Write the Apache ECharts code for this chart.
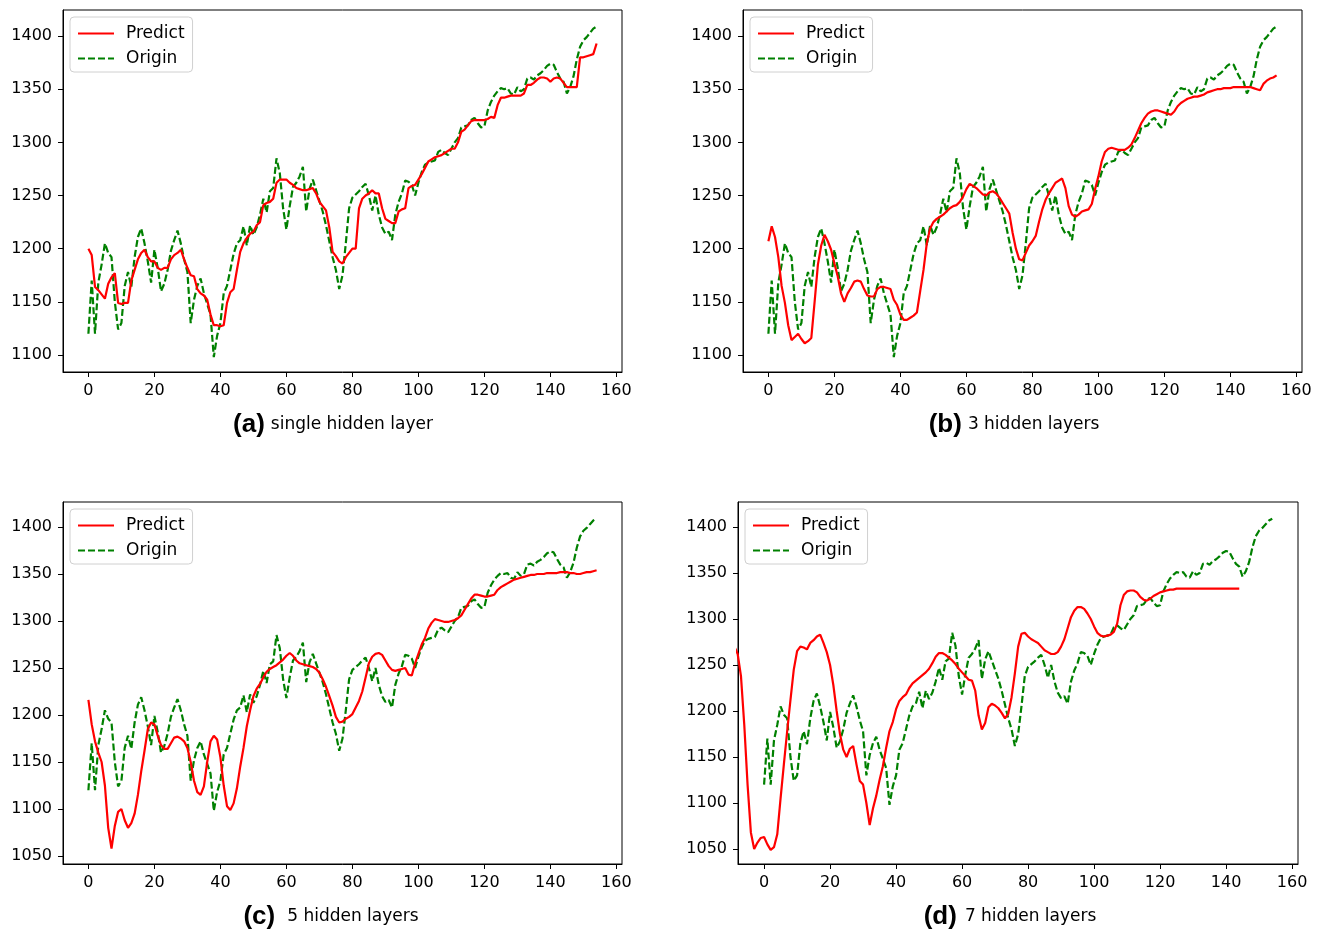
<!DOCTYPE html>
<html><head><meta charset="utf-8">
<script src="https://cdn.jsdelivr.net/npm/echarts@6/dist/echarts.min.js"></script>
<style>html,body{margin:0;padding:0;background:#fff}#c{width:1325px;height:933px}</style>
</head><body><div id="c"></div>
<script>
// ---- data ----
const origin = [
1120,1170,1120,1168,1185,1205,1196,1192,1150,1124,
1130,1165,1178,1164,1192,1211,1219,1205,1188,1168,
1199,1182,1160,1167,1180,1198,1208,1217,1205,1190,
1178,1130,1152,1165,1172,1158,1148,1138,1098,1118,
1130,1158,1165,1180,1195,1205,1208,1221,1203,1222,
1213,1220,1232,1247,1234,1254,1257,1285,1271,1238,
1218,1240,1258,1262,1268,1277,1235,1256,1265,1255,
1245,1235,1222,1207,1192,1180,1162,1175,1205,1238,
1248,1251,1254,1258,1261,1250,1236,1250,1232,1220,
1214,1216,1208,1232,1244,1252,1264,1263,1260,1250,
1262,1272,1279,1281,1282,1283,1291,1293,1290,1288,
1294,1300,1304,1314,1315,1316,1321,1323,1318,1314,
1315,1330,1338,1344,1348,1351,1350,1351,1346,1345,
1352,1348,1350,1360,1361,1359,1363,1365,1368,1372,
1374,1373,1366,1360,1357,1346,1352,1362,1378,1390,
1396,1399,1403,1407,1409];

const predictA = [
1200,1194,1164,1161,1157,1153,1167,1173,1177,1149,
1148,1149,1149,1170,1180,1190,1196,1199,1192,1188,
1188,1182,1180,1182,1182,1190,1194,1196,1199,1190,
1182,1175,1174,1162,1158,1156,1152,1138,1128,1128,
1127,1128,1149,1159,1162,1180,1197,1205,1210,1214,
1216,1222,1225,1241,1243,1244,1247,1262,1265,1265,
1265,1262,1260,1257,1256,1255,1255,1256,1257,1252,
1244,1240,1236,1220,1197,1193,1188,1186,1192,1196,
1200,1200,1238,1247,1250,1252,1255,1252,1252,1238,
1228,1226,1224,1224,1235,1237,1238,1257,1259,1260,
1265,1270,1276,1282,1284,1286,1287,1288,1290,1292,
1294,1294,1300,1310,1312,1316,1320,1321,1321,1321,
1321,1322,1324,1323,1335,1342,1342,1343,1344,1344,
1344,1344,1346,1354,1354,1356,1359,1361,1361,1360,
1357,1360,1361,1360,1356,1352,1352,1352,1352,1380,
1380,1381,1382,1383,1393];

const predictB = [
1207,1221,1211,1192,1165,1149,1128,1114,1117,1120,
1115,1111,1113,1116,1150,1185,1203,1213,1207,1199,
1186,1174,1158,1150,1158,1163,1169,1170,1169,1162,
1156,1155,1155,1162,1164,1164,1163,1162,1152,1147,
1138,1133,1133,1135,1137,1140,1160,1180,1205,1219,
1225,1228,1230,1232,1235,1238,1240,1241,1244,1249,
1256,1261,1259,1257,1254,1251,1250,1253,1254,1252,
1248,1243,1238,1233,1215,1200,1190,1189,1196,1203,
1207,1212,1225,1237,1246,1252,1257,1262,1264,1266,
1257,1240,1232,1230,1232,1235,1236,1237,1242,1256,
1268,1282,1291,1294,1295,1294,1293,1293,1293,1295,
1298,1304,1311,1318,1323,1327,1329,1330,1330,1329,
1328,1327,1326,1329,1334,1337,1339,1341,1342,1343,
1343,1344,1345,1347,1348,1349,1350,1350,1351,1351,
1351,1352,1352,1352,1352,1352,1352,1351,1350,1349,
1355,1358,1360,1361,1363];

const predictC = [
1216,1190,1172,1160,1150,1125,1080,1058,1082,1097,
1100,1088,1080,1085,1095,1115,1140,1162,1185,1192,
1190,1178,1168,1164,1164,1170,1176,1177,1175,1172,
1165,1150,1130,1118,1115,1124,1150,1172,1178,1174,
1155,1125,1103,1099,1106,1122,1145,1165,1188,1205,
1220,1228,1233,1240,1246,1249,1251,1253,1256,1259,
1263,1266,1263,1258,1255,1254,1253,1252,1251,1249,
1245,1238,1230,1220,1210,1198,1192,1193,1196,1198,
1201,1208,1215,1225,1240,1255,1262,1265,1266,1264,
1258,1252,1248,1247,1248,1249,1250,1243,1242,1255,
1265,1275,1282,1292,1298,1302,1301,1300,1299,1299,
1300,1301,1303,1306,1312,1318,1324,1328,1328,1327,
1326,1326,1327,1328,1333,1336,1338,1340,1342,1344,
1345,1346,1347,1348,1349,1349,1350,1350,1350,1351,
1351,1351,1351,1352,1352,1352,1351,1351,1350,1350,
1351,1352,1352,1353,1354];

// predict of panel (d) starts 10 steps before the origin series
const predictDStart = -10;
const predictD = [
1272,1270,1262,1238,1185,1120,1068,1050,1057,1062,
1063,1055,1049,1052,1066,1105,1142,1178,1212,1245,
1265,1270,1269,1267,1274,1277,1281,1283,1274,1264,
1250,1228,1200,1175,1158,1150,1159,1162,1142,1124,
1120,1100,1076,1094,1108,1125,1140,1160,1178,1188,
1202,1211,1215,1218,1225,1230,1233,1236,1239,1242,
1246,1252,1259,1263,1263,1261,1258,1255,1251,1246,
1242,1238,1234,1233,1222,1195,1180,1187,1204,1208,
1206,1203,1198,1192,1197,1215,1241,1270,1284,1285,
1281,1278,1276,1274,1270,1266,1264,1262,1262,1264,
1270,1278,1290,1302,1309,1313,1313,1311,1306,1300,
1292,1285,1282,1281,1282,1283,1286,1295,1315,1326,
1330,1331,1331,1329,1324,1321,1320,1322,1325,1327,
1329,1330,1331,1332,1332,1333,1333,1333,1333,1333,
1333,1333,1333,1333,1333,1333,1333,1333,1333,1333,
1333,1333,1333,1333,1333];

const xTicks = [0,20,40,60,80,100,120,140,160];
const yTicksAB = [1100,1150,1200,1250,1300,1350,1400];
const yTicksCD = [1050,1100,1150,1200,1250,1300,1350,1400];
const seriesNames = ['Predict','Origin'];
const captionTags = ['(a)','(b)','(c)','(d)'];
const captionTexts = ['single hidden layer','3 hidden layers','5 hidden layers','7 hidden layers'];

// ---- layout ----
const panels = [
  {grid:{left:63,top:10,width:559,height:362}, x:[-7.7,161.7], y:[1084,1424.5], yt:yTicksAB, pred:predictA, start:0, cap:[333,425], gap:6},
  {grid:{left:743,top:10,width:559,height:362}, x:[-7.7,161.7], y:[1084,1424.5], yt:yTicksAB, pred:predictB, start:0, cap:[1014,425], gap:6},
  {grid:{left:63,top:502,width:559,height:362}, x:[-7.7,161.7], y:[1041.5,1426.6], yt:yTicksCD, pred:predictC, start:0, cap:[331,917], gap:12},
  {grid:{left:738,top:502,width:560,height:362}, x:[-7.9,161.8], y:[1033.7,1427.2], yt:yTicksCD, pred:predictD, start:predictDStart, cap:[1010,917], gap:8}
];

const FONT = 'DejaVu Sans';
const plain = v => String(Math.round(v));
const grids = [], xAxes = [], yAxes = [], series = [], legends = [], graphics = [];
panels.forEach((p, k) => {
  grids.push(Object.assign({show:true, borderColor:'#000', borderWidth:1, backgroundColor:'#fff', containLabel:false}, p.grid));
  xAxes.push({type:'value', gridIndex:k, min:p.x[0], max:p.x[1],
    axisLine:{show:true, onZero:false, lineStyle:{color:'#000', width:1}},
    axisTick:{show:true, inside:false, length:5, customValues:xTicks, lineStyle:{color:'#000'}},
    axisLabel:{customValues:xTicks, formatter:plain, fontSize:16, color:'#000', fontFamily:FONT, margin:11},
    splitLine:{show:false}});
  yAxes.push({type:'value', gridIndex:k, min:p.y[0], max:p.y[1],
    axisLine:{show:true, onZero:false, lineStyle:{color:'#000', width:1}},
    axisTick:{show:true, inside:false, length:5, customValues:p.yt, lineStyle:{color:'#000'}},
    axisLabel:{customValues:p.yt, formatter:plain, fontSize:16, color:'#000', fontFamily:FONT, margin:11},
    splitLine:{show:false}});
  series.push({name:seriesNames[0], type:'line', xAxisIndex:k, yAxisIndex:k, symbol:'none', clip:true,
    lineStyle:{color:'#ff0000', width:2.2}, itemStyle:{color:'#ff0000'},
    data:p.pred.map((v,i)=>[i+p.start, v]), animation:false, z:3});
  series.push({name:seriesNames[1], type:'line', xAxisIndex:k, yAxisIndex:k, symbol:'none', clip:true,
    lineStyle:{color:'#008000', width:2.2, type:[7,3]}, itemStyle:{color:'#008000'},
    data:origin.map((v,i)=>[i, v]), animation:false, z:2});
  legends.push({data:seriesNames, orient:'vertical', left:p.grid.left+7, top:p.grid.top+7,
    itemWidth:36, itemHeight:12, itemGap:8, padding:[8,8,5,7],
    backgroundColor:'#fff', borderColor:'#d0d0d0', borderWidth:1, borderRadius:4,
    selectedMode:false, itemStyle:{opacity:0},
    textStyle:{fontSize:17, color:'#000', fontFamily:FONT, padding:[0,0,0,7]}});
  graphics.push({type:'text', x:p.cap[0], y:p.cap[1], z:10,
    style:{text:'{b|'+captionTags[k]+'}{r|'+captionTexts[k]+'}', align:'center', verticalAlign:'middle',
      rich:{b:{fontFamily:'Liberation Sans', fontWeight:'bold', fontSize:26, fill:'#000', verticalAlign:'middle'},
            r:{fontFamily:FONT, fontSize:17, fill:'#000', padding:[0,0,0,p.gap], verticalAlign:'middle'}}}});
});

const chart = echarts.init(document.getElementById('c'), null, {renderer:'canvas'});
chart.setOption({animation:false, backgroundColor:'#fff', grid:grids, xAxis:xAxes, yAxis:yAxes,
  series:series, legend:legends, graphic:graphics});
</script></body></html>
